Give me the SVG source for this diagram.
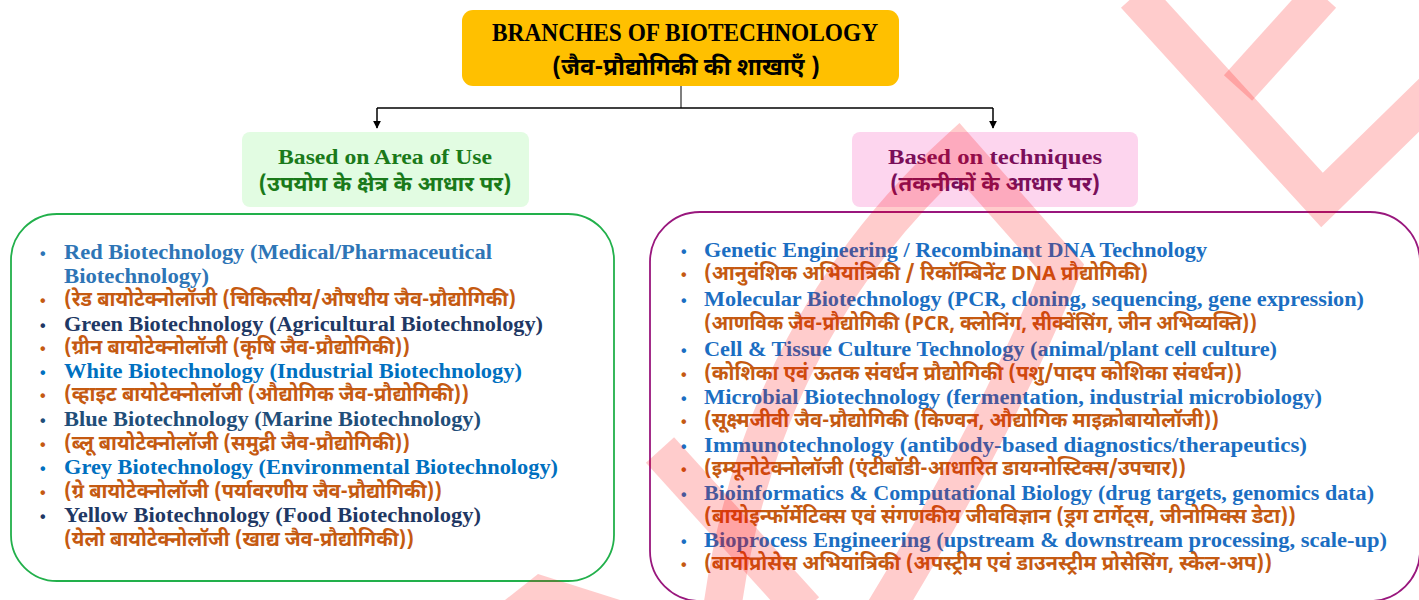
<svg xmlns="http://www.w3.org/2000/svg" width="1419" height="600" viewBox="0 0 1419 600">
<style>
.en{font-family:"Liberation Serif","DejaVu Serif",serif;font-weight:bold;}
.hi{font-family:"Noto Sans Devanagari","Noto Serif Devanagari","Lohit Devanagari","Mangal","Nirmala UI","Noto Sans",sans-serif;font-weight:bold;}
.li{font-size:20px;}
.hl{font-size:20px;fill:#C55A11;}
.b{font-family:"Liberation Sans",sans-serif;font-size:16px;font-weight:bold;}
.conn{fill:none;stroke:#000;stroke-width:1.5;}
.wm{fill:none;stroke:#FF0000;stroke-opacity:0.2;stroke-width:38;stroke-linejoin:miter;}
</style>
<defs>
<marker id="arr" viewBox="0 0 10 10" refX="9" refY="5" markerWidth="8" markerHeight="8" markerUnits="userSpaceOnUse" orient="auto">
<path d="M0,0 L10,5 L0,10 z" fill="#000"/>
</marker>
</defs>
<rect width="1419" height="600" fill="#fff"/>

<g id="connectors">
<line x1="681" y1="86" x2="681" y2="108" stroke="#555" stroke-width="1.5"/>
<path class="conn" d="M377,108 L993,108"/>
<path class="conn" d="M377,108 L377,128" marker-end="url(#arr)"/>
<path class="conn" d="M993,108 L993,128" marker-end="url(#arr)"/>
</g>

<g id="title">
<rect x="462" y="10" width="437" height="76" rx="11" fill="#FFC000"/>
<text class="en" x="685" y="41" font-size="26" text-anchor="middle" fill="#000" textLength="386" lengthAdjust="spacingAndGlyphs">BRANCHES OF BIOTECHNOLOGY</text>
<text class="hi" x="686" y="75" font-size="24" text-anchor="middle" fill="#000" textLength="268" lengthAdjust="spacingAndGlyphs">(जैव-प्रौद्योगिकी की शाखाएँ )</text>
</g>

<g id="area-of-use">
<rect x="242" y="132" width="287" height="75" rx="8" fill="#E2FCE2"/>
<text class="en" x="385" y="164" font-size="21" text-anchor="middle" fill="#1A7A1A" textLength="214" lengthAdjust="spacingAndGlyphs">Based on Area of Use</text>
<text class="hi" x="385" y="191" font-size="21" text-anchor="middle" fill="#1A7A1A" textLength="253" lengthAdjust="spacingAndGlyphs">(उपयोग के क्षेत्र के आधार पर)</text>
</g>

<g id="techniques">
<rect x="852" y="132" width="286" height="75" rx="8" fill="#FDD5EE"/>
<text class="en" x="995" y="164" font-size="21" text-anchor="middle" fill="#7A0F5A" textLength="214" lengthAdjust="spacingAndGlyphs">Based on techniques</text>
<text class="hi" x="995" y="191" font-size="21" text-anchor="middle" fill="#7A0F5A" textLength="210" lengthAdjust="spacingAndGlyphs">(तकनीकों के आधार पर)</text>
</g>

<g id="area-list">
<rect x="11" y="214" width="603" height="367" rx="46" fill="#fff" stroke="#22B04B" stroke-width="1.8"/>
<text class="b" x="40" y="259" fill="#2E75B6">•</text>
<text class="en li" x="64" y="259" fill="#2E75B6" textLength="428" lengthAdjust="spacingAndGlyphs">Red Biotechnology (Medical/Pharmaceutical</text>
<text class="en li" x="64" y="283" fill="#2E75B6" textLength="145" lengthAdjust="spacingAndGlyphs">Biotechnology)</text>
<text class="b" x="40" y="306" fill="#C55A11">•</text>
<text class="hi hl" x="64" y="306" textLength="452" lengthAdjust="spacingAndGlyphs">(रेड बायोटेक्नोलॉजी (चिकित्सीय/औषधीय जैव-प्रौद्योगिकी)</text>
<text class="b" x="40" y="331" fill="#1F3864">•</text>
<text class="en li" x="64" y="331" fill="#1F3864" textLength="479" lengthAdjust="spacingAndGlyphs">Green Biotechnology (Agricultural Biotechnology)</text>
<text class="b" x="40" y="354" fill="#C55A11">•</text>
<text class="hi hl" x="64" y="354" textLength="346" lengthAdjust="spacingAndGlyphs">(ग्रीन बायोटेक्नोलॉजी (कृषि जैव-प्रौद्योगिकी))</text>
<text class="b" x="40" y="378" fill="#0070C0">•</text>
<text class="en li" x="64" y="378" fill="#0070C0" textLength="458" lengthAdjust="spacingAndGlyphs">White Biotechnology (Industrial Biotechnology)</text>
<text class="b" x="40" y="401" fill="#C55A11">•</text>
<text class="hi hl" x="64" y="401" textLength="405" lengthAdjust="spacingAndGlyphs">(व्हाइट बायोटेक्नोलॉजी (औद्योगिक जैव-प्रौद्योगिकी))</text>
<text class="b" x="40" y="426" fill="#1F4E79">•</text>
<text class="en li" x="64" y="426" fill="#1F4E79" textLength="417" lengthAdjust="spacingAndGlyphs">Blue Biotechnology (Marine Biotechnology)</text>
<text class="b" x="40" y="450" fill="#C55A11">•</text>
<text class="hi hl" x="64" y="450" textLength="346" lengthAdjust="spacingAndGlyphs">(ब्लू बायोटेक्नोलॉजी (समुद्री जैव-प्रौद्योगिकी))</text>
<text class="b" x="40" y="474" fill="#0070C0">•</text>
<text class="en li" x="64" y="474" fill="#0070C0" textLength="494" lengthAdjust="spacingAndGlyphs">Grey Biotechnology (Environmental Biotechnology)</text>
<text class="b" x="40" y="498" fill="#C55A11">•</text>
<text class="hi hl" x="64" y="498" textLength="378" lengthAdjust="spacingAndGlyphs">(ग्रे बायोटेक्नोलॉजी (पर्यावरणीय जैव-प्रौद्योगिकी))</text>
<text class="b" x="40" y="522" fill="#1F3864">•</text>
<text class="en li" x="64" y="522" fill="#1F3864" textLength="417" lengthAdjust="spacingAndGlyphs">Yellow Biotechnology (Food Biotechnology)</text>
<text class="hi hl" x="64" y="546" textLength="350" lengthAdjust="spacingAndGlyphs">(येलो बायोटेक्नोलॉजी (खाद्य जैव-प्रौद्योगिकी))</text>
</g>

<g id="technique-list">
<rect x="650" y="212" width="770" height="389" rx="50" fill="#fff" stroke="#99177D" stroke-width="1.8"/>
<text class="b" x="681" y="257" fill="#1B6EC2">•</text>
<text class="en li" x="704" y="257" fill="#1B6EC2" textLength="503" lengthAdjust="spacingAndGlyphs">Genetic Engineering / Recombinant DNA Technology</text>
<text class="b" x="681" y="280" fill="#C55A11">•</text>
<text class="hi hl" x="704" y="280" textLength="444" lengthAdjust="spacingAndGlyphs">(आनुवंशिक अभियांत्रिकी / रिकॉम्बिनेंट DNA प्रौद्योगिकी)</text>
<text class="b" x="681" y="306" fill="#1B6EC2">•</text>
<text class="en li" x="704" y="306" fill="#1B6EC2" textLength="660" lengthAdjust="spacingAndGlyphs">Molecular Biotechnology (PCR, cloning, sequencing, gene expression)</text>
<text class="hi hl" x="704" y="330" textLength="553" lengthAdjust="spacingAndGlyphs">(आणविक जैव-प्रौद्योगिकी (PCR, क्लोनिंग, सीक्वेंसिंग, जीन अभिव्यक्ति))</text>
<text class="b" x="681" y="356" fill="#1B6EC2">•</text>
<text class="en li" x="704" y="356" fill="#1B6EC2" textLength="573" lengthAdjust="spacingAndGlyphs">Cell &amp; Tissue Culture Technology (animal/plant cell culture)</text>
<text class="b" x="681" y="380" fill="#C55A11">•</text>
<text class="hi hl" x="704" y="380" textLength="538" lengthAdjust="spacingAndGlyphs">(कोशिका एवं ऊतक संवर्धन प्रौद्योगिकी (पशु/पादप कोशिका संवर्धन))</text>
<text class="b" x="681" y="404" fill="#1B6EC2">•</text>
<text class="en li" x="704" y="404" fill="#1B6EC2" textLength="618" lengthAdjust="spacingAndGlyphs">Microbial Biotechnology (fermentation, industrial microbiology)</text>
<text class="b" x="681" y="427" fill="#C55A11">•</text>
<text class="hi hl" x="704" y="427" textLength="515" lengthAdjust="spacingAndGlyphs">(सूक्ष्मजीवी जैव-प्रौद्योगिकी (किण्वन, औद्योगिक माइक्रोबायोलॉजी))</text>
<text class="b" x="681" y="452" fill="#1B6EC2">•</text>
<text class="en li" x="704" y="452" fill="#1B6EC2" textLength="603" lengthAdjust="spacingAndGlyphs">Immunotechnology (antibody-based diagnostics/therapeutics)</text>
<text class="b" x="681" y="475" fill="#C55A11">•</text>
<text class="hi hl" x="704" y="475" textLength="482" lengthAdjust="spacingAndGlyphs">(इम्यूनोटेक्नोलॉजी (एंटीबॉडी-आधारित डायग्नोस्टिक्स/उपचार))</text>
<text class="b" x="681" y="500" fill="#1B6EC2">•</text>
<text class="en li" x="704" y="500" fill="#1B6EC2" textLength="670" lengthAdjust="spacingAndGlyphs">Bioinformatics &amp; Computational Biology (drug targets, genomics data)</text>
<text class="hi hl" x="704" y="523" textLength="592" lengthAdjust="spacingAndGlyphs">(बायोइन्फॉर्मेटिक्स एवं संगणकीय जीवविज्ञान (ड्रग टार्गेट्स, जीनोमिक्स डेटा))</text>
<text class="b" x="681" y="547" fill="#1B6EC2">•</text>
<text class="en li" x="704" y="547" fill="#1B6EC2" textLength="683" lengthAdjust="spacingAndGlyphs">Bioprocess Engineering (upstream &amp; downstream processing, scale-up)</text>
<text class="b" x="681" y="570" fill="#C55A11">•</text>
<text class="hi hl" x="704" y="570" textLength="568" lengthAdjust="spacingAndGlyphs">(बायोप्रोसेस अभियांत्रिकी (अपस्ट्रीम एवं डाउनस्ट्रीम प्रोसेसिंग, स्केल-अप))</text>
</g>

<g id="watermark">
<path class="wm" d="M1135,-5 L1322,200 L1450,75"/>
<path class="wm" d="M1322,-5 L1238,88"/>
<path class="wm" d="M722,610 Q760,330 958,150 L1062,268 Q1000,420 885,610"/>
<path class="wm" stroke-width="44" d="M660,450 L805,610"/>
<path d="M505,600 L538,574 L620,600 z" fill="#FF0000" fill-opacity="0.2"/>
</g>
</svg>
